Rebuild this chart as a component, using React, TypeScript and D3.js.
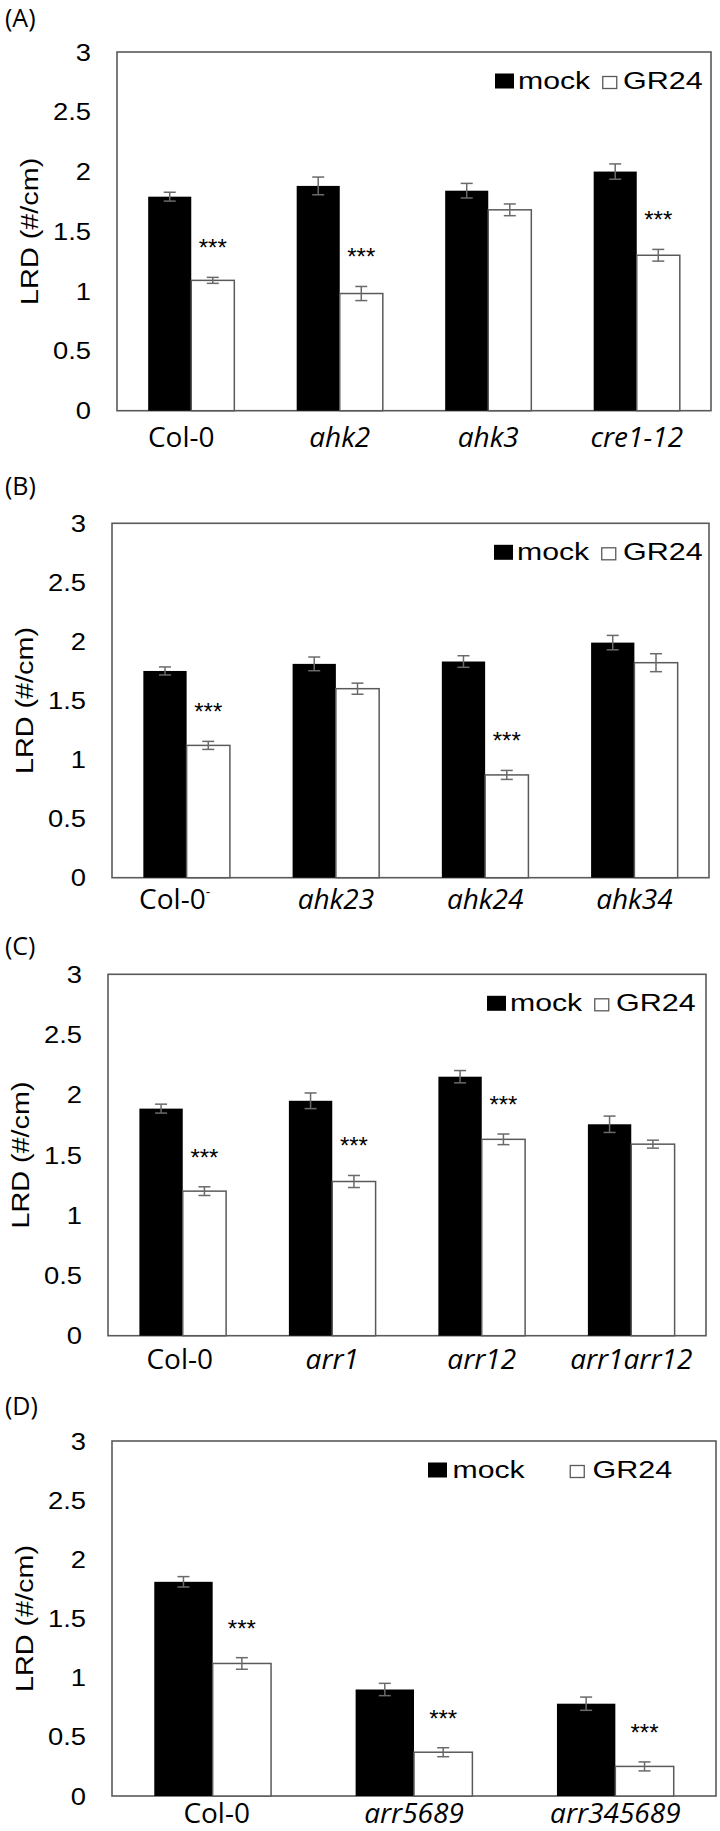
import React from 'react';
import * as d3 from 'd3';

// ---------- data ----------
const seriesNames = ['mock', 'GR24'];
const panelLetters = ['(A)', '(B)', '(C)', '(D)'];
const yTickValues = [0, 0.5, 1, 1.5, 2, 2.5, 3];
const yTickLabels = ['0', '0.5', '1', '1.5', '2', '2.5', '3'];
const yAxisTitle = 'LRD (#/cm)';

const catsA = ['Col-0', 'ahk2', 'ahk3', 'cre1-12'];
const mockA = [1.79, 1.88, 1.84, 2.0];
const mockErrA = [0.037, 0.074, 0.061, 0.064];
const gr24A = [1.09, 0.98, 1.68, 1.3];
const gr24ErrA = [0.025, 0.059, 0.049, 0.049];
const sigA = [true, true, false, true];

const catsB = ['Col-0', 'ahk23', 'ahk24', 'ahk34'];
const mockB = [1.75, 1.81, 1.83, 1.99];
const mockErrB = [0.034, 0.058, 0.049, 0.061];
const gr24B = [1.12, 1.6, 0.87, 1.82];
const gr24ErrB = [0.034, 0.047, 0.038, 0.076];
const sigB = [true, false, true, false];

const catsC = ['Col-0', 'arr1', 'arr12', 'arr1arr12'];
const mockC = [1.885, 1.95, 2.15, 1.755];
const mockErrC = [0.037, 0.065, 0.051, 0.068];
const gr24C = [1.2, 1.28, 1.63, 1.59];
const gr24ErrC = [0.036, 0.05, 0.044, 0.033];
const sigC = [true, true, true, false];

const catsD = ['Col-0', 'arr5689', 'arr345689'];
const mockD = [1.81, 0.9, 0.78];
const mockErrD = [0.044, 0.052, 0.056];
const gr24D = [1.12, 0.37, 0.25];
const gr24ErrD = [0.049, 0.038, 0.038];
const sigD = [true, true, true];

// ---------- layout ----------
const W = 720;
const H = 1831;
const AX = '#5a5a5a';
const ERR = '#6a6a6a';
const SANS = 'Liberation Sans, Arial, sans-serif';
const CAL = 'Open Sans, Noto Sans, sans-serif';

const panels = [
  { cats: catsA, mock: mockA, mockErr: mockErrA, gr: gr24A, grErr: gr24ErrA, sig: sigA,
    left: 117, right: 711, top: 52, bottom: 410.7, letterY: 27, catDy: 36, col0Dx: -10, col0Sup: false,
    legendOffset: 216, legendSpread: [0, 23, 107, 128] },
  { cats: catsB, mock: mockB, mockErr: mockErrB, gr: gr24B, grErr: gr24ErrB, sig: sigB,
    left: 112, right: 709, top: 523.3, bottom: 877.7, letterY: 495, catDy: 31, col0Dx: -12, col0Sup: true,
    legendOffset: 215, legendSpread: [0, 23, 107, 129] },
  { cats: catsC, mock: mockC, mockErr: mockErrC, gr: gr24C, grErr: gr24ErrC, sig: sigC,
    left: 108, right: 706, top: 974.3, bottom: 1335.7, letterY: 955, catDy: 33, col0Dx: -3, col0Sup: false,
    legendOffset: 219, legendSpread: [0, 23, 107, 129] },
  { cats: catsD, mock: mockD, mockErr: mockErrD, gr: gr24D, grErr: gr24ErrD, sig: sigD,
    left: 112, right: 716, top: 1441, bottom: 1796, letterY: 1415, catDy: 27, col0Dx: 4, col0Sup: false,
    legendOffset: 288, legendSpread: [0, 24.5, 141.5, 164.5] },
];

function ErrorBar({ x, y0, y1 }: any) {
  const hw = 6;
  return (
    <g stroke={ERR} strokeWidth={1.5}>
      <line x1={x} x2={x} y1={y0} y2={y1} />
      <line x1={x - hw} x2={x + hw} y1={y0} y2={y0} />
      <line x1={x - hw} x2={x + hw} y1={y1} y2={y1} />
    </g>
  );
}

function Panel({ p, idx }: any) {
  const x = d3.scaleBand<string>().domain(p.cats).range([p.left, p.right]).paddingInner(0.42).paddingOuter(0.21);
  const y = d3.scaleLinear().domain([0, 3]).range([p.bottom, p.top]);
  const bw = x.bandwidth() / 2;
  const legY = p.top + 37;
  const lx = p.right - p.legendOffset;
  return (
    <g>
      <text x={5} y={p.letterY} fontFamily={CAL} fontSize={25} fill="#000">{panelLetters[idx]}</text>
      {/* frame */}
      <rect x={p.left} y={p.top} width={p.right - p.left} height={p.bottom - p.top} fill="none" stroke={AX} strokeWidth={1.6} />
      {/* y ticks */}
      {yTickValues.map((t, i) => (
        <g key={'t' + i} transform={`translate(${p.left - 26},${y(t) + 8.5}) scale(1.14,1)`}>
          <text textAnchor="end" fontFamily={SANS} fontSize={24} fill="#000">{yTickLabels[i]}</text>
        </g>
      ))}
      {/* y title */}
      <g transform={`translate(${p.left - 79.5},${(p.top + p.bottom) / 2}) rotate(-90) scale(1.2,1)`}>
        <text textAnchor="middle" fontFamily={SANS} fontSize={24} fill="#000">{yAxisTitle}</text>
      </g>
      {/* bars */}
      {p.cats.map((c: string, i: number) => {
        const x0 = x(c)!;
        return (
          <g key={'b' + i}>
            <rect x={x0} y={y(p.mock[i])} width={bw} height={y(0) - y(p.mock[i])} fill="#000" />
            <rect x={x0 + bw} y={y(p.gr[i])} width={bw} height={y(0) - y(p.gr[i])} fill="#fff" stroke={AX} strokeWidth={1.5} />
          </g>
        );
      })}
      {p.cats.map((c: string, i: number) => {
        const x0 = x(c)!;
        return (
          <g key={'e' + i}>
            <ErrorBar x={x0 + bw / 2} y0={y(p.mock[i] - p.mockErr[i])} y1={y(p.mock[i] + p.mockErr[i])} />
            <ErrorBar x={x0 + bw * 1.5} y0={y(p.gr[i] - p.grErr[i])} y1={y(p.gr[i] + p.grErr[i])} />
            {p.sig[i] && (
              <text x={x0 + bw * 1.5} y={y(p.gr[i] + p.grErr[i]) - 21} textAnchor="middle" fontFamily={SANS} fontSize={24} fill="#000">***</text>
            )}
          </g>
        );
      })}
      {/* category labels */}
      {p.cats.map((c: string, i: number) => {
        const cx = x(c)! + x.bandwidth() / 2 + (i === 0 ? p.col0Dx : 0);
        const italic = c !== 'Col-0';
        return (
          <text key={'c' + i} x={cx} y={p.bottom + p.catDy} textAnchor="middle" fontFamily={CAL} fontSize={28}
            fontStyle={italic ? 'italic' : 'normal'} fill="#000">
            {c}
            {i === 0 && p.col0Sup ? <tspan fontSize={14} dy={-12}>-</tspan> : null}
          </text>
        );
      })}
      {/* legend */}
      <rect x={lx + p.legendSpread[0]} y={legY - 15.5} width={19} height={15} fill="#000" />
      <g transform={`translate(${lx + p.legendSpread[1]},${legY}) scale(1.26,1)`}>
        <text fontFamily={SANS} fontSize={24} fill="#000">{seriesNames[0]}</text>
      </g>
      <rect x={lx + p.legendSpread[2] + 0.75} y={legY - 12.5} width={14} height={12} fill="#fff" stroke={AX} strokeWidth={1.3} />
      <g transform={`translate(${lx + p.legendSpread[3]},${legY}) scale(1.27,1)`}>
        <text fontFamily={SANS} fontSize={24} fill="#000">{seriesNames[1]}</text>
      </g>
    </g>
  );
}

export default function App() {
  return (
    <svg width={W} height={H} viewBox={`0 0 ${W} ${H}`} style={{ position: 'absolute', left: 0, top: 0, background: '#fff' }}>
      <rect x={0} y={0} width={W} height={H} fill="#fff" />
      {panels.map((p, i) => <Panel key={i} p={p} idx={i} />)}
    </svg>
  );
}
